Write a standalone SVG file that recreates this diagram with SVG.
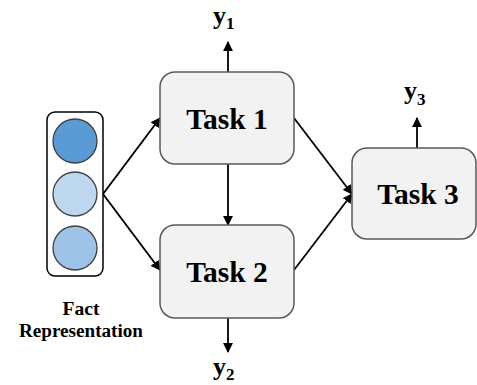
<svg xmlns="http://www.w3.org/2000/svg" width="477" height="385" viewBox="0 0 477 385">
<defs>
<style>
.task{fill:#f2f2f2;stroke:#595959;stroke-width:1.5}
.tl{font-family:"Liberation Serif","Times New Roman",serif;font-weight:bold;font-size:29.5px;fill:#000;text-anchor:middle}
.yl{font-family:"Liberation Serif","Times New Roman",serif;font-weight:bold;font-size:26px;fill:#000}
.sub{font-size:17px}
.fl{font-family:"Liberation Serif","Times New Roman",serif;font-weight:bold;font-size:18px;fill:#000;text-anchor:middle}
.circ{stroke:#404040;stroke-width:1.3}
.c{stroke:#000;stroke-width:1.8;fill:none;marker-end:url(#ah)}
</style>
<marker id="ah" viewBox="0 0 10 10" refX="9" refY="5" markerWidth="5.5" markerHeight="5.5" orient="auto" markerUnits="strokeWidth">
<path d="M0,0 L10,5 L0,10 z" fill="#000"/>
</marker>
</defs>
<g id="connectors">
<line class="c" x1="103" y1="194" x2="160" y2="118"/>
<line class="c" x1="103" y1="194" x2="160" y2="270"/>
<line class="c" x1="294" y1="118" x2="352" y2="194"/>
<line class="c" x1="294" y1="270" x2="352" y2="194"/>
<line class="c" x1="228" y1="164" x2="228" y2="225"/>
<line class="c" x1="228" y1="72" x2="228" y2="42"/>
<line class="c" x1="228" y1="318" x2="228" y2="352"/>
<line class="c" x1="417" y1="148" x2="417" y2="118"/>
</g>
<g id="fact">
<rect x="47" y="112" width="56" height="164" rx="8" fill="#fff" stroke="#000" stroke-width="1.5"/>
<circle class="circ" cx="75" cy="141" r="22" fill="#5b9bd5"/>
<circle class="circ" cx="75" cy="194" r="22" fill="#bdd7ee"/>
<circle class="circ" cx="75" cy="248" r="22" fill="#9dc3e6"/>
<text class="fl" x="81" y="315" textLength="37" lengthAdjust="spacingAndGlyphs">Fact</text>
<text class="fl" x="81" y="337" textLength="124" lengthAdjust="spacingAndGlyphs">Representation</text>
</g>
<g id="task1">
<rect class="task" x="160" y="72" width="134" height="92" rx="15"/>
<text class="tl" x="227" y="129">Task 1</text>
</g>
<g id="task2">
<rect class="task" x="160" y="225" width="134" height="93" rx="15"/>
<text class="tl" x="227" y="282">Task 2</text>
</g>
<g id="task3">
<rect class="task" x="352" y="148" width="124" height="91" rx="15"/>
<text class="tl" x="418" y="204">Task 3</text>
</g>
<g id="y1"><text class="yl" x="213" y="24">y<tspan class="sub" dy="5">1</tspan></text></g>
<g id="y2"><text class="yl" x="213" y="375">y<tspan class="sub" dy="5">2</tspan></text></g>
<g id="y3"><text class="yl" x="404" y="99">y<tspan class="sub" dy="6">3</tspan></text></g>
</svg>
